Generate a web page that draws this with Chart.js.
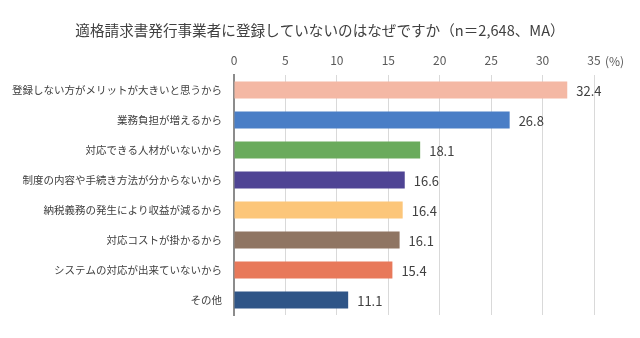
<!DOCTYPE html>
<html>
<head>
<meta charset="utf-8">
<script src="https://cdn.jsdelivr.net/npm/chart.js@4"></script>
<style>
  html, body { margin: 0; padding: 0; background: #fff; }
  #wrap { width: 640px; height: 338px; }
</style>
</head>
<body>
<div id="wrap"><canvas id="chart"></canvas></div>
<script>
const titleText = '適格請求書発行事業者に登録していないのはなぜですか（n＝2,648、MA）';
const categories = [
    '登録しない方がメリットが大きいと思うから',
    '業務負担が増えるから',
    '対応できる人材がいないから',
    '制度の内容や手続き方法が分からないから',
    '納税義務の発生により収益が減るから',
    '対応コストが掛かるから',
    'システムの対応が出来ていないから',
    'その他'
];
const values = [32.4, 26.8, 18.1, 16.6, 16.4, 16.1, 15.4, 11.1];
const barColors = ['#F4B8A4', '#4A7EC6', '#6AAB5C', '#4F4494', '#FCC67A', '#8F7563', '#E8795A', '#2F5587'];
const xTicks = [0, 5, 10, 15, 20, 25, 30, 35];
const unitLabel = '(%)';

const FONT = '"Noto Sans CJK JP", "Noto Sans", sans-serif';

// title centred on the page, value labels beside the bars, "(%)" after the last tick
const extras = {
    id: 'extras',
    afterDatasetsDraw(chart) {
        const ctx = chart.ctx;
        const meta = chart.getDatasetMeta(0);
        ctx.save();
        ctx.font = '14.6px ' + FONT;
        ctx.fillStyle = '#404040';
        ctx.textAlign = 'center';
        ctx.textBaseline = 'middle';
        ctx.fillText(titleText, 320, 30);

        ctx.font = '13px ' + FONT;
        ctx.fillStyle = '#404040';
        ctx.textAlign = 'left';
        meta.data.forEach((bar, i) => {
            ctx.fillText(values[i].toFixed(1), bar.x + 9, bar.y + 1);
        });
        const xs = chart.scales.x;
        ctx.font = '12px ' + FONT;
        ctx.fillStyle = '#595959';
        ctx.fillText(unitLabel, xs.getPixelForValue(35) + 11, 61);
        ctx.restore();
    }
};

new Chart(document.getElementById('chart'), {
    type: 'bar',
    data: {
        labels: categories,
        datasets: [{
            data: values,
            backgroundColor: barColors,
            borderWidth: 0,
            categoryPercentage: 1,
            barPercentage: 0.57
        }]
    },
    options: {
        indexAxis: 'y',
        responsive: true,
        maintainAspectRatio: false,
        animation: false,
        layout: { padding: { left: 0, right: 46, top: 45, bottom: 23 } },
        plugins: {
            legend: { display: false },
            tooltip: { enabled: false },
            title: { display: false }
        },
        scales: {
            x: {
                position: 'top',
                min: 0,
                max: 35,
                afterBuildTicks(scale) {
                    scale.ticks = xTicks.map(v => ({ value: v }));
                },
                afterFit(scale) { scale.height = 30; },
                grid: { color: '#D9D9D9', drawTicks: false, lineWidth: 1 },
                border: { display: false },
                ticks: {
                    color: '#595959',
                    padding: 7,
                    font: { family: FONT, size: 12 }
                }
            },
            y: {
                afterFit(scale) { scale.width = 234; },
                grid: { display: false, drawTicks: false },
                border: { color: '#8C8C8C', width: 2 },
                ticks: {
                    color: '#404040',
                    padding: 12,
                    font: { family: FONT, size: 10.5 }
                }
            }
        }
    },
    plugins: [extras]
});
</script>
</body>
</html>
